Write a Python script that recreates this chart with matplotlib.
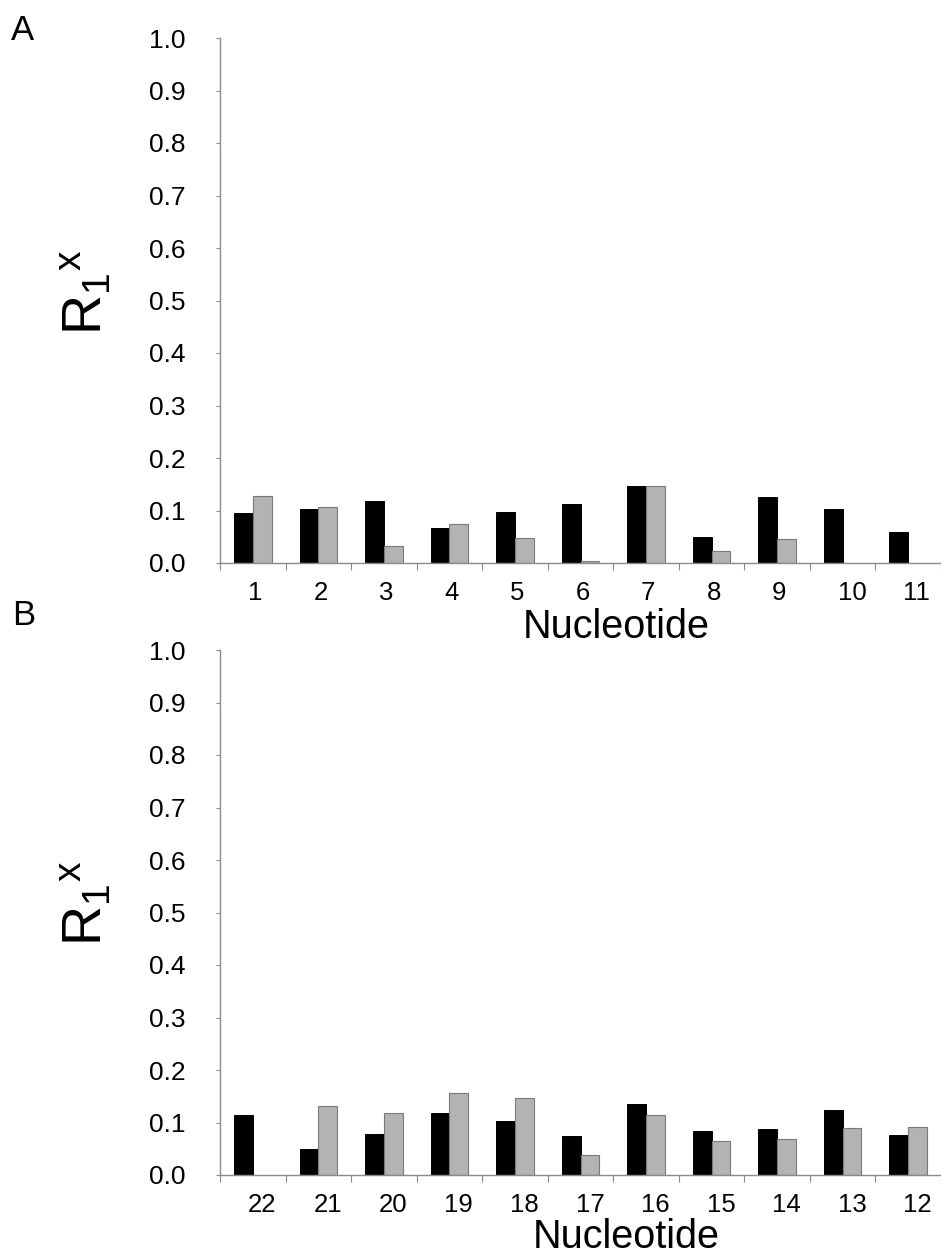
import numpy as np
import matplotlib
matplotlib.use("Agg")
import matplotlib.pyplot as plt
from matplotlib.transforms import ScaledTranslation

plt.rcParams['font.family'] = ['Liberation Sans', 'DejaVu Sans']
plt.rcParams['mathtext.fontset'] = 'custom'
plt.rcParams['mathtext.rm'] = 'Liberation Sans'

# ---- data ----
labels_a = ["1", "2", "3", "4", "5", "6", "7", "8", "9", "10", "11"]
black_a = [0.095, 0.103, 0.118, 0.067, 0.098, 0.112, 0.147, 0.050, 0.126, 0.103, 0.059]
gray_a = [0.127, 0.106, 0.032, 0.074, 0.048, 0.004, 0.147, 0.022, 0.045, np.nan, np.nan]

labels_b = ["22", "21", "20", "19", "18", "17", "16", "15", "14", "13", "12"]
black_b = [0.115, 0.050, 0.079, 0.118, 0.103, 0.074, 0.135, 0.083, 0.088, 0.123, 0.077]
gray_b = [np.nan, 0.132, 0.118, 0.156, 0.147, 0.039, 0.115, 0.065, 0.068, 0.089, 0.091]

yticks = [0.0, 0.1, 0.2, 0.3, 0.4, 0.5, 0.6, 0.7, 0.8, 0.9, 1.0]

W, H = 941, 1257
fig = plt.figure(figsize=(W / 100, H / 100), dpi=100)

spine_col = '#8a8a8a'


def panel(rect, labels, black, gray):
    ax = fig.add_axes(rect)
    n = len(labels)
    x = np.arange(n) + 0.5
    bw = 0.287
    ax.bar(x - bw / 2, black, width=bw, color='black', edgecolor='black', linewidth=0.7)
    ax.bar(x + bw / 2, gray, width=bw, color='#b3b3b3', edgecolor='#7a7a7a', linewidth=0.8)
    ax.set_xlim(0, n)
    ax.set_ylim(0, 1.0)
    for s in ['top', 'right']:
        ax.spines[s].set_visible(False)
    for s in ['left', 'bottom']:
        ax.spines[s].set_color(spine_col)
        ax.spines[s].set_linewidth(1.0)
    ax.set_yticks(yticks)
    ax.set_yticklabels([f"{v:.1f}" for v in yticks], fontsize=19)
    ax.tick_params(axis='y', length=3, width=0.8, color=spine_col, pad=22)
    # major ticks at category boundaries, labels at centres
    ax.set_xticks(np.arange(n + 1))
    ax.set_xticklabels([])
    ax.tick_params(axis='x', which='major', length=5, width=0.8, color=spine_col)
    ax.set_xticks(x, minor=True)
    ax.set_xticklabels(labels, minor=True, fontsize=18.5)
    ax.tick_params(axis='x', which='minor', length=0, pad=13)
    off = ScaledTranslation(-5 / 100, 0, fig.dpi_scale_trans)
    for t in ax.xaxis.get_minorticklabels():
        t.set_horizontalalignment('left')
        t.set_transform(t.get_transform() + off)
    return ax


left = 220 / W
width = 721 / W
# panel A: y=1.0 at 38 px, y=0 at 563 px
axA = panel([left, 1 - 563 / H, width, (563 - 38) / H], labels_a, black_a, gray_a)
# panel B: y=1.0 at 650 px, y=0 at 1175 px
axB = panel([left, 1 - 1175 / H, width, (1175 - 650) / H], labels_b, black_b, gray_b)

# x labels
fig.text(616 / W, 1 - 638 / H, "Nucleotide", fontsize=28.5, ha='center', va='baseline')
fig.text(626 / W, 1.5 / H, "Nucleotide", fontsize=28.5, ha='center', va='bottom')

# y labels
ylab = r'$\mathregular{R_1{}^x}$'
fig.text(86 / W, 1 - 292 / H, ylab, fontsize=40, rotation=90, ha='center', va='center')
fig.text(86 / W, 1 - 903 / H, ylab, fontsize=40, rotation=90, ha='center', va='center')

# panel letters
fig.text(11 / W, 1 - 40 / H, "A", fontsize=25, ha='left', va='baseline')
fig.text(12 / W, 1 - 625 / H, "B", fontsize=25, ha='left', va='baseline')

fig.savefig("out.png", dpi=100)
